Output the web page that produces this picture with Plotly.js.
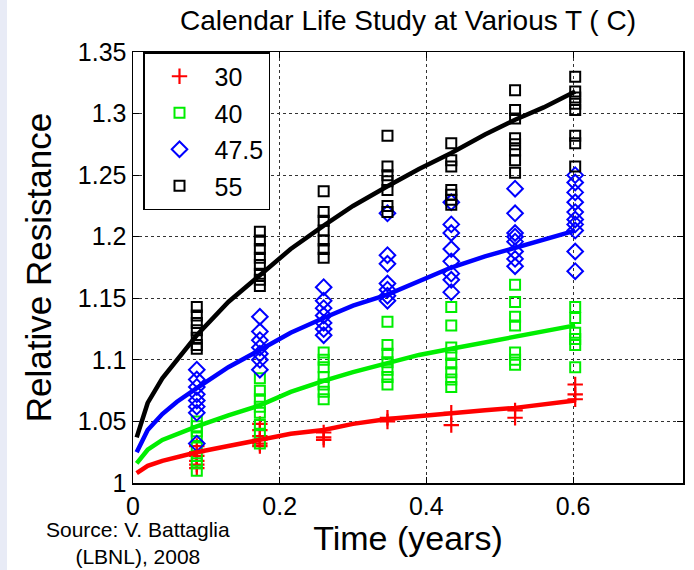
<!DOCTYPE html>
<html>
<head>
<meta charset="utf-8">
<script src="https://cdn.plot.ly/plotly-3.0.1.min.js"></script>
<style>
  html, body { margin: 0; padding: 0; background: #fff; }
  #chart { width: 694px; height: 570px; }
</style>
</head>
<body>
<div id="chart"></div>
<script>
// Sampling times (years)
const times = [0.087, 0.173, 0.26, 0.347, 0.434, 0.521, 0.603];

// Measured relative resistance at each sampling time, per storage temperature
const r30 = [
  [1.030, 1.025, 1.022, 1.018, 1.015, 1.012],
  [1.048, 1.043, 1.038, 1.035, 1.032, 1.030],
  [1.041, 1.037, 1.035],
  [1.053, 1.050],
  [1.057, 1.047],
  [1.059, 1.053],
  [1.080, 1.072, 1.068]
];
const r40 = [
  [1.050, 1.046, 1.042, 1.037, 1.030, 1.022, 1.016, 1.010],
  [1.085, 1.075, 1.068, 1.062, 1.057, 1.047, 1.040, 1.032],
  [1.106, 1.100, 1.094, 1.086, 1.080, 1.074, 1.068],
  [1.131, 1.112, 1.105, 1.098, 1.092, 1.086, 1.080],
  [1.143, 1.128, 1.110, 1.104, 1.097, 1.090, 1.084, 1.078],
  [1.161, 1.147, 1.135, 1.128, 1.106, 1.100, 1.096],
  [1.143, 1.134, 1.122, 1.117, 1.112, 1.094]
];
const r475 = [
  [1.092, 1.084, 1.078, 1.072, 1.067, 1.062, 1.057, 1.032],
  [1.135, 1.123, 1.116, 1.110, 1.105, 1.100, 1.092],
  [1.159, 1.148, 1.142, 1.136, 1.130, 1.125, 1.120],
  [1.219, 1.185, 1.178, 1.162, 1.157, 1.152, 1.148],
  [1.228, 1.210, 1.203, 1.190, 1.180, 1.170, 1.165, 1.155],
  [1.239, 1.219, 1.203, 1.200, 1.196, 1.188, 1.182, 1.176],
  [1.250, 1.244, 1.236, 1.228, 1.220, 1.214, 1.210, 1.205, 1.188, 1.172]
];
const r55 = [
  [1.143, 1.136, 1.130, 1.124, 1.118, 1.112, 1.109],
  [1.204, 1.197, 1.190, 1.183, 1.177, 1.170, 1.165, 1.160],
  [1.237, 1.220, 1.213, 1.205, 1.197, 1.190, 1.183],
  [1.282, 1.257, 1.250, 1.245, 1.238, 1.225, 1.220],
  [1.276, 1.262, 1.257, 1.238, 1.234, 1.230, 1.226],
  [1.319, 1.303, 1.296, 1.280, 1.275, 1.270, 1.262, 1.252],
  [1.330, 1.318, 1.313, 1.308, 1.303, 1.282, 1.276, 1.257]
];

// Model fit curves
const fitT   = [0.005, 0.02, 0.04, 0.06, 0.087, 0.13, 0.173, 0.215, 0.26, 0.30, 0.347, 0.39, 0.434, 0.48, 0.521, 0.56, 0.603];
const fit30  = [1.008, 1.014, 1.018, 1.021, 1.025, 1.030, 1.035, 1.040, 1.043, 1.048, 1.052, 1.054, 1.056, 1.059, 1.061, 1.064, 1.067];
const fit40  = [1.016, 1.027, 1.035, 1.040, 1.046, 1.055, 1.063, 1.074, 1.083, 1.090, 1.097, 1.104, 1.109, 1.114, 1.119, 1.123, 1.128];
const fit475 = [1.025, 1.043, 1.056, 1.066, 1.077, 1.094, 1.108, 1.122, 1.134, 1.144, 1.153, 1.164, 1.175, 1.184, 1.191, 1.197, 1.205];
const fit55  = [1.037, 1.065, 1.085, 1.100, 1.120, 1.147, 1.169, 1.190, 1.209, 1.225, 1.241, 1.255, 1.268, 1.283, 1.295, 1.305, 1.318];

const seriesNames = ['30', '40', '47.5', '55'];
const yTicks = [1, 1.05, 1.1, 1.15, 1.2, 1.25, 1.3, 1.35];
const xTicks = [0, 0.2, 0.4, 0.6];

function flatten(groups) {
  const x = [], y = [];
  groups.forEach((vals, i) => vals.forEach(v => { x.push(times[i]); y.push(v); }));
  return { x, y };
}

const colors = ['#ff0000', '#00ee00', '#0000ff', '#000000'];
const symbols = ['cross-thin-open', 'square-open', 'diamond-open', 'square-open'];
const sizes = [11, 10, 12, 10];
const widths = [2.2, 2, 2, 2];
const measured = [r30, r40, r475, r55];
const fits = [fit30, fit40, fit475, fit55];

const traces = [];
measured.forEach((g, i) => {
  const d = flatten(g);
  traces.push({
    x: d.x, y: d.y, type: 'scatter', mode: 'markers',
    name: seriesNames[i], legendgroup: 'g' + i,
    marker: { symbol: symbols[i], size: sizes[i], color: colors[i],
              line: { color: colors[i], width: widths[i] } }
  });
});
fits.forEach((f, i) => {
  traces.push({
    x: fitT, y: f, type: 'scatter', mode: 'lines', showlegend: false,
    line: { color: colors[i], width: 4.5 }
  });
});

const L = 133, R = 683, T = 52, B = 483, W = 694, H = 570;
const pw = R - L, ph = B - T;

const font = 'Liberation Sans, Arial, Helvetica, sans-serif';

const layout = {
  width: W, height: H,
  margin: { l: L, r: W - R, t: T, b: H - B },
  paper_bgcolor: '#ffffff', plot_bgcolor: '#ffffff',
  font: { family: font, color: '#000' },
  showlegend: true,
  title: { text: 'Calendar Life Study at Various T ( C)', font: { size: 28, family: font, color: '#000' },
           x: 0.5, xref: 'paper', y: 1 - 20 / H, yanchor: 'middle' },
  xaxis: {
    range: [0, 0.75], tickvals: xTicks, ticktext: xTicks.map(String),
    showgrid: true, gridcolor: '#333', griddash: 'dot', gridwidth: 1,
    zeroline: false, showline: true, linecolor: '#000', linewidth: 1.5, mirror: 'ticks',
    ticks: 'inside', ticklen: 6, tickcolor: '#000', tickwidth: 1,
    tickfont: { size: 25, family: font, color: '#000' },
    title: { text: 'Time (years)', font: { size: 34, family: font, color: '#000' }, standoff: 6 }
  },
  yaxis: {
    range: [1, 1.35], tickvals: yTicks, ticktext: yTicks.map(v => String(v)),
    showgrid: true, gridcolor: '#333', griddash: 'dot', gridwidth: 1,
    zeroline: false, showline: true, linecolor: '#000', linewidth: 1.5, mirror: 'ticks',
    ticks: 'inside', ticklen: 6, tickcolor: '#000', tickwidth: 1,
    tickfont: { size: 25, family: font, color: '#000' },
    title: { text: 'Relative Resistance', font: { size: 35, family: font, color: '#000' }, standoff: 15 }
  },
  legend: {
    x: (143 - L) / pw, y: 1, xanchor: 'left', yanchor: 'top',
    bgcolor: '#ffffff', bordercolor: '#000', borderwidth: 1.5,
    font: { size: 25, family: font, color: '#000' },
    traceorder: 'grouped', tracegroupgap: 1, itemwidth: 60,
    entrywidth: 125, entrywidthmode: 'pixels'
  },
  shapes: [{
    type: 'rect', xref: 'paper', yref: 'paper', layer: 'below',
    x0: -L / pw, x1: (7 - L) / pw, y0: -(H - B) / ph, y1: 1 + T / ph,
    fillcolor: '#e8ebf6', line: { width: 0 }
  }],
  annotations: [{
    text: 'Source: V. Battaglia<br>(LBNL), 2008', showarrow: false,
    xref: 'paper', yref: 'paper', x: (138 - L) / pw, y: -(543 - B) / ph,
    xanchor: 'center', yanchor: 'middle', align: 'center',
    font: { size: 21, family: font, color: '#000' }
  }]
};

Plotly.newPlot('chart', traces, layout, { staticPlot: true, displayModeBar: false });
</script>
</body>
</html>
